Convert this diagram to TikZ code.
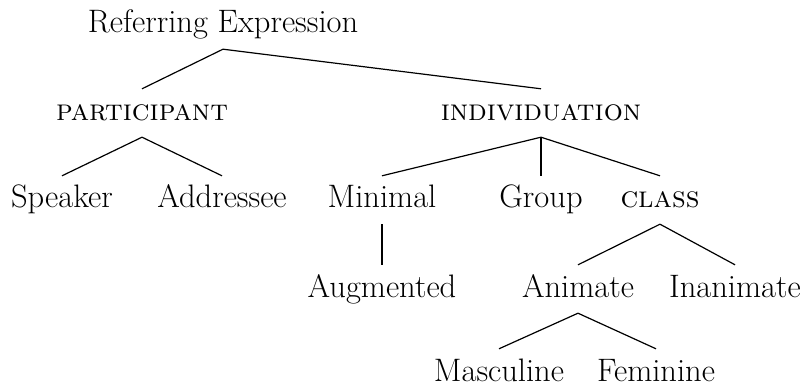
\documentclass[tikz,border=0pt]{standalone}

\begin{document}
\begin{tikzpicture}[
        x=1pt, y=-1pt,
        word/.style={anchor=base, inner sep=0pt, text height=32pt, text depth=16pt, font=\fontsize{32.5}{38}\selectfont},
        feature/.style={word, font=\fontsize{30}{36}\selectfont\scshape},
        branch/.style={line width=1.2pt}
    ]
        \useasboundingbox (0,0) rectangle (808,387);

        % top level
        \node[word] (root) at (223,33) {Referring Expression};
        \node[feature] (part) at (142,121) {participant};
        \node[feature] (indiv) at (541,121) {individuation};
        \draw[branch] (root.south) -- (part.north);
        \draw[branch] (root.south) -- (indiv.north);

        % participant
        \node[word] (spk) at (62,208) {Speaker};
        \node[word] (addr) at (222,208) {Addressee};
        \draw[branch] (part.south) -- (spk.north);
        \draw[branch] (part.south) -- (addr.north);

        % individuation
        \node[word] (minl) at (382,208) {Minimal};
        \node[word] (grp) at (541,208) {Group};
        \node[feature] (cls) at (660,208) {class};
        \draw[branch] (indiv.south) -- (minl.north);
        \draw[branch] (indiv.south) -- (grp.north);
        \draw[branch] (indiv.south) -- (cls.north);

        \node[word] (aug) at (382,297) {Augmented};
        \draw[branch] (minl.south) -- (aug.north);

        % class
        \node[word] (anim) at (578,297) {Animate};
        \node[word] (inan) at (735,297) {Inanimate};
        \draw[branch] (cls.south) -- (anim.north);
        \draw[branch] (cls.south) -- (inan.north);

        \node[word] (masc) at (499,381) {Masculine};
        \node[word] (fem) at (656,381) {Feminine};
        \draw[branch] (anim.south) -- (masc.north);
        \draw[branch] (anim.south) -- (fem.north);

    \end{tikzpicture}
\end{document}
